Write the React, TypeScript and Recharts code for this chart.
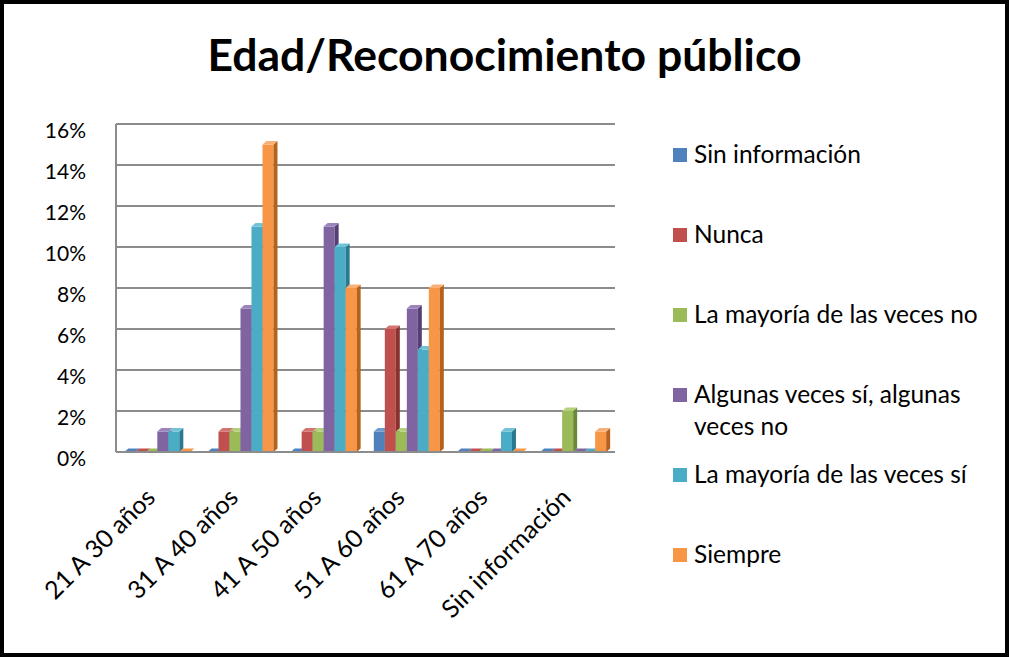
import React from "react";
import { Bar, BarChart, CartesianGrid, Legend, XAxis, YAxis } from "recharts";

const ageGroups = ["21 A 30 años", "31 A 40 años", "41 A 50 años", "51 A 60 años", "61 A 70 años", "Sin información"];

const sinInformacion = [0, 0, 0, 1, 0, 0];
const nunca = [0, 1, 1, 6, 0, 0];
const mayoriaNo = [0, 1, 1, 1, 0, 2];
const algunasVeces = [1, 7, 11, 7, 0, 0];
const mayoriaSi = [1, 11, 10, 5, 1, 0];
const siempre = [0, 15, 8, 8, 0, 1];

const yTicks = [0, 2, 4, 6, 8, 10, 12, 14, 16];

const seriesDefs = [
  { key: "sinInfo", name: "Sin información", values: sinInformacion, color: "#4F81BD", side: "#2f5a8c", top: "#6f9bd0" },
  { key: "nunca", name: "Nunca", values: nunca, color: "#C0504D", side: "#883330", top: "#d47370" },
  { key: "mayNo", name: "La mayoría de las veces no", values: mayoriaNo, color: "#9BBB59", side: "#6b8838", top: "#b4d07a" },
  { key: "algunas", name: "Algunas veces sí, algunas veces no", values: algunasVeces, color: "#8064A2", side: "#553f74", top: "#9c83bb" },
  { key: "maySi", name: "La mayoría de las veces sí", values: mayoriaSi, color: "#4BACC6", side: "#2a7990", top: "#72c3d8" },
  { key: "siempre", name: "Siempre", values: siempre, color: "#F79646", side: "#b7621c", top: "#f9b077" },
];

const chartData = ageGroups.map((age, i) => {
  const row: Record<string, string | number> = { age };
  seriesDefs.forEach((s) => {
    row[s.key] = s.values[i];
  });
  return row;
});

const FONT = "Lato, 'Open Sans', sans-serif";
const DEPTH_X = 4;
const DEPTH_Y = 3.5;

// fake 3d column: front face, top face, right side face
function make3dBar(color: string, side: string, top: string) {
  return (props: any) => {
    const { x, y, width, height } = props;
    if (x == null || y == null) return <g />;
    const h = Math.max(0, height || 0);
    const w = width;
    return (
      <g>
        {h > 0 && <rect x={x} y={y} width={w} height={h} fill={color} />}
        {h > 0 && (
          <polygon
            points={`${x + w},${y} ${x + w + DEPTH_X},${y - DEPTH_Y} ${x + w + DEPTH_X},${y + h - DEPTH_Y} ${x + w},${y + h}`}
            fill={side}
          />
        )}
        <polygon
          points={`${x},${y} ${x + DEPTH_X},${y - DEPTH_Y} ${x + w + DEPTH_X},${y - DEPTH_Y} ${x + w},${y}`}
          fill={h > 0 ? top : color}
        />
      </g>
    );
  };
}

const YTick = (props: any) => {
  const { x, y, payload } = props;
  return (
    <text x={x} y={y} dy={14} textAnchor="end" fontSize={21} fill="#000" fontFamily={FONT}>
      {`${payload.value}%`}
    </text>
  );
};

const XTick = (props: any) => {
  const { x, y, payload } = props;
  const ax = x - 1;
  return (
    <text
      x={ax}
      y={y}
      textAnchor="end"
      fontSize={25}
      fill="#000"
      fontFamily={FONT}
      transform={`rotate(-45 ${ax} ${y})`}
    >
      {payload.value}
    </text>
  );
};

// legend in series order (recharts sorts payload by name otherwise)
const LegendBox = () => (
  <div style={{ fontFamily: FONT, fontSize: 24.5, color: "#000" }}>
    {seriesDefs.map((s) => (
      <div key={s.key} style={{ display: "flex", alignItems: "flex-start", height: 80, lineHeight: "32px" }}>
        <span
          style={{
            display: "inline-block",
            width: 14,
            height: 14,
            background: s.color,
            marginTop: 10,
            marginRight: 7,
            flex: "none",
          }}
        />
        <span style={{ width: 298 }}>{s.name}</span>
      </div>
    ))}
  </div>
);

export default function App() {
  return (
    <div style={{ position: "absolute", left: 0, top: 0, width: 1009, height: 657, background: "#fff" }}>
      <div
        style={{
          position: "absolute",
          left: 0,
          top: 27,
          width: 1009,
          textAlign: "center",
          fontFamily: FONT,
          fontWeight: 700,
          fontSize: 44.5,
          color: "#000",
        }}
      >
        Edad/Reconocimiento público
      </div>
      <div style={{ position: "absolute", left: 0, top: 0 }}>
        <BarChart
          width={1009}
          height={657}
          data={chartData}
          margin={{ top: 124, right: 394, bottom: 85, left: 36 }}
          barCategoryGap="10%"
          barGap={0}
        >
          <CartesianGrid vertical={false} stroke="#8c8c8c" strokeWidth={2} />
          <XAxis
            dataKey="age"
            height={120}
            interval={0}
            tickLine={false}
            tickSize={0}
            tickMargin={47}
            axisLine={{ stroke: "#8c8c8c", strokeWidth: 2 }}
            tick={<XTick />}
          />
          <YAxis
            width={80}
            domain={[0, 16]}
            ticks={yTicks}
            interval={0}
            tickLine={false}
            tickSize={0}
            tickMargin={30}
            axisLine={{ stroke: "#8c8c8c", strokeWidth: 2 }}
            tick={<YTick />}
          />
          <Legend
            layout="vertical"
            align="center"
            verticalAlign="middle"
            wrapperStyle={{ left: 673, top: 138, width: 330 }}
            content={<LegendBox />}
          />
          {seriesDefs.map((s) => (
            <Bar
              key={s.key}
              dataKey={s.key}
              name={s.name}
              fill={s.color}
              isAnimationActive={false}
              shape={make3dBar(s.color, s.side, s.top)}
            />
          ))}
        </BarChart>
      </div>
      <div
        style={{
          position: "absolute",
          left: 0,
          top: 0,
          width: 1009,
          height: 657,
          border: "4px solid #000",
          boxSizing: "border-box",
          pointerEvents: "none",
        }}
      />
    </div>
  );
}
